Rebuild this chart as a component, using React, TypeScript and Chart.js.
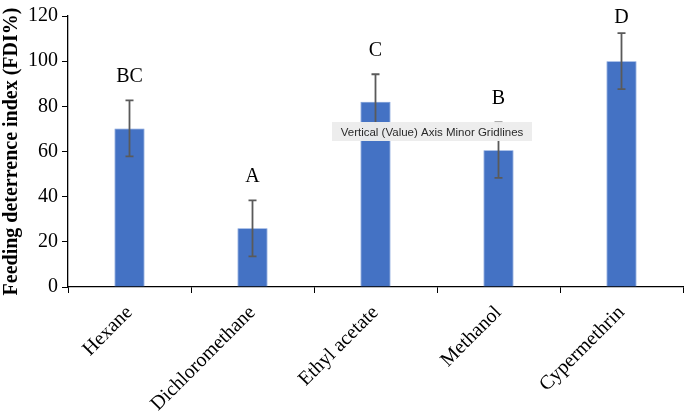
import React, { useEffect, useRef } from "react";
import { Chart, registerables } from "chart.js";

Chart.register(...registerables);

const categories = ["Hexane", "Dichloromethane", "Ethyl acetate", "Methanol", "Cypermethrin"];
const fdiValues = [70.2, 26.0, 82.0, 60.6, 100.0];
const fdiErrors = [12.4, 12.4, 12.2, 12.3, 12.4];
const groupLetters = ["BC", "A", "C", "B", "D"];
const yTicks = [0, 20, 40, 60, 80, 100, 120];
const tooltipText = "Vertical (Value) Axis Minor Gridlines";

const SERIF = "'Liberation Serif', 'Times New Roman', serif";

const extrasPlugin = {
  id: "extras",
  afterDatasetsDraw(chart: any) {
    const ctx = chart.ctx;
    const meta = chart.getDatasetMeta(0);
    const y = chart.scales.y;
    ctx.save();
    meta.data.forEach((bar: any, i: number) => {
      const x = bar.x;
      const top = y.getPixelForValue(fdiValues[i] + fdiErrors[i]);
      const bot = y.getPixelForValue(fdiValues[i] - fdiErrors[i]);
      ctx.strokeStyle = "#5a5a5a";
      ctx.lineWidth = 1.8;
      ctx.beginPath();
      ctx.moveTo(x, top);
      ctx.lineTo(x, bot);
      ctx.moveTo(x - 4, top);
      ctx.lineTo(x + 4, top);
      ctx.moveTo(x - 4, bot);
      ctx.lineTo(x + 4, bot);
      ctx.stroke();
      ctx.fillStyle = "#000";
      ctx.font = `20px ${SERIF}`;
      ctx.textAlign = "center";
      ctx.textBaseline = "middle";
      const ly = Math.max(18, top - 24);
      ctx.fillText(groupLetters[i], x, ly);
    });
    const bx = 332, by = 122, bw = 200, bh = 19;
    ctx.fillStyle = "rgba(236,236,236,0.97)";
    ctx.fillRect(bx, by, bw, bh);
    ctx.fillStyle = "#2a2a2a";
    ctx.font = "11.5px 'Liberation Sans', Arial, sans-serif";
    ctx.textAlign = "center";
    ctx.textBaseline = "middle";
    ctx.fillText(tooltipText, bx + bw / 2, by + bh / 2 + 1);
    ctx.restore();
  },
};

export default function App() {
  const ref = useRef<HTMLCanvasElement | null>(null);
  useEffect(() => {
    if (!ref.current) return;
    const chart = new Chart(ref.current, {
      type: "bar",
      data: {
        labels: categories,
        datasets: [
          {
            data: fdiValues,
            backgroundColor: "#4472C4",
            borderColor: "#6f94d6",
            borderWidth: 0.8,
            categoryPercentage: 1,
            barPercentage: 0.245,
          },
        ],
      },
      options: {
        animation: false,
        responsive: false,
        maintainAspectRatio: false,
        events: [],
        layout: { padding: { top: 11, right: 2, left: 0, bottom: 0 } },
        plugins: { legend: { display: false }, tooltip: { enabled: false } },
        scales: {
          x: {
            grid: {
              display: true,
              drawOnChartArea: false,
              drawTicks: true,
              tickLength: 6,
              color: "#000",
              offset: true,
            },
            border: { display: true, color: "#000", width: 1.3 },
            ticks: {
              color: "#000",
              font: { family: SERIF, size: 20 },
              minRotation: 45,
              maxRotation: 45,
              padding: 8,
            },
            afterFit(scale: any) {
              scale.height = 127;
            },
          },
          y: {
            min: 0,
            max: 120,
            afterBuildTicks(scale: any) {
              scale.ticks = yTicks.map((v) => ({ value: v }));
            },
            grid: {
              display: true,
              drawOnChartArea: false,
              drawTicks: true,
              tickLength: 6,
              color: "#000",
            },
            border: { display: true, color: "#000", width: 1.3 },
            ticks: {
              color: "#000",
              font: { family: SERIF, size: 20 },
              padding: 4,
            },
            title: {
              display: true,
              text: "Feeding deterrence index (FDI%)",
              color: "#000",
              font: { family: SERIF, size: 20, weight: "bold" },
              padding: { top: 0, bottom: 0 },
            },
            afterFit(scale: any) {
              scale.width = 68;
            },
          },
        },
      },
      plugins: [extrasPlugin],
    } as any);
    return () => chart.destroy();
  }, []);
  return (
    <div style={{ position: "fixed", left: 0, top: 0, width: 685, height: 414, background: "#fff" }}>
      <canvas ref={ref} width={685} height={414} style={{ display: "block", width: 685, height: 414 }} />
    </div>
  );
}
